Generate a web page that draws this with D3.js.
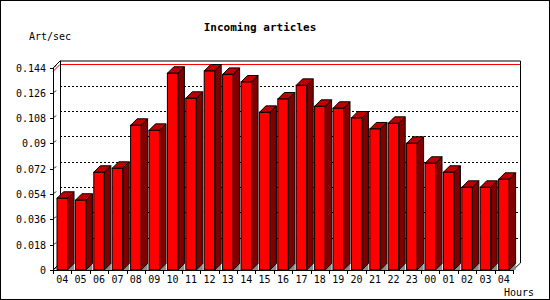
<!DOCTYPE html>
<html>
<head>
<meta charset="utf-8">
<script src="https://cdn.jsdelivr.net/npm/d3@7"></script>
<style>
  body { margin: 0; background: #fff; }
  text { font-family: "DejaVu Sans Mono", monospace; }
</style>
</head>
<body>
<div id="canvas"></div>
<script>
"use strict";

/* Data */
let hours = ["04", "05", "06", "07", "08", "09", "10", "11", "12", "13", "14", "15",
  "16", "17", "18", "19", "20", "21", "22", "23", "00", "01", "02", "03", "04"];
let artPerSec = [0.0510, 0.0496, 0.0695, 0.0723, 0.1029, 0.0993, 0.1399, 0.1221,
  0.1415, 0.1391, 0.1337, 0.1121, 0.1216, 0.1313, 0.1164, 0.1150, 0.1081,
  0.1003, 0.1043, 0.0901, 0.0759, 0.0695, 0.0588, 0.0588, 0.0645];
let yTicks = [0, 0.018, 0.036, 0.054, 0.072, 0.09, 0.108, 0.126, 0.144];
let yTickLabels = ["0", "0.018", "0.036", "0.054", "0.072", "0.09", "0.108", "0.126", "0.144"];

/* Drawing config */
let svgWidth = 550;
let svgHeight = 300;
let plotLeft = 53, plotRight = 513, plotTop = 67.5, plotBottom = 270;
let depth = 7;      // offset of back plane
let barDepth = 6.5; // depth of each bar
let barInset = 4;
let barWidth = 10.5;

let svg = d3.select("#canvas")
  .append("svg")
  .attr("width", svgWidth)
  .attr("height", svgHeight);

/* outer border */
svg.append("rect")
  .attr("x", 0.5).attr("y", 0.5)
  .attr("width", svgWidth - 1).attr("height", svgHeight - 1)
  .attr("fill", "#fff").attr("stroke", "#000");

let xScale = d3.scaleBand()
  .domain(d3.range(hours.length))
  .range([plotLeft, plotRight]);

let yScale = d3.scaleLinear()
  .domain([0, 0.144])
  .range([plotBottom, plotTop]);

/* grid lines on back plane */
svg.selectAll(".grid")
  .data(yTicks.slice(1, -1))
  .enter()
  .append("line")
  .attr("x1", plotLeft + depth).attr("x2", plotRight + depth)
  .attr("y1", function (d) { return Math.round(yScale(d) - depth) + 0.5; })
  .attr("y2", function (d) { return Math.round(yScale(d) - depth) + 0.5; })
  .attr("stroke", "#000")
  .attr("stroke-dasharray", "2,2");

/* max value line */
let maxVal = d3.max(artPerSec);
let yMax = Math.round(yScale(maxVal) - depth) + 0.5;
svg.append("line")
  .attr("x1", plotLeft + depth).attr("x2", plotRight + depth)
  .attr("y1", yMax).attr("y2", yMax)
  .attr("stroke", "#f00");
svg.append("line")
  .attr("x1", plotLeft).attr("y1", yMax + depth)
  .attr("x2", plotLeft + depth).attr("y2", yMax)
  .attr("stroke", "#f00");

/* back frame */
svg.append("path")
  .attr("d", "M" + (plotLeft + depth + 0.5) + "," + (plotBottom - depth) +
    "V" + (plotTop - depth + 0.5) + "H" + (plotRight + depth + 0.5) + "V" + (plotBottom - depth))
  .attr("fill", "none").attr("stroke", "#000");
svg.append("line")
  .attr("x1", plotLeft + 0.5).attr("y1", plotTop)
  .attr("x2", plotLeft + depth + 0.5).attr("y2", plotTop - depth)
  .attr("stroke", "#000");
svg.append("line")
  .attr("x1", plotRight).attr("y1", plotBottom)
  .attr("x2", plotRight + depth + 0.5).attr("y2", plotBottom - depth)
  .attr("stroke", "#000");
svg.append("line")
  .attr("x1", plotLeft).attr("y1", plotBottom)
  .attr("x2", plotLeft + depth).attr("y2", plotBottom - depth)
  .attr("stroke", "#000");

/* bars */
let bars = svg.selectAll(".bar")
  .data(artPerSec)
  .enter()
  .append("g");

// floor shadow
bars.append("path")
  .attr("d", function (d, i) {
    let x1 = xScale(i) + barInset + barWidth;
    return "M" + x1 + "," + plotBottom + "L" + (x1 + barDepth) + "," + (plotBottom - barDepth) +
      "V" + plotBottom + "Z";
  })
  .attr("fill", "#8c8c8c");

// side face
bars.append("path")
  .attr("d", function (d, i) {
    let x1 = xScale(i) + barInset + barWidth;
    let y = yScale(d);
    return "M" + x1 + "," + y + "L" + (x1 + barDepth) + "," + (y - barDepth) +
      "V" + (plotBottom - barDepth) + "L" + x1 + "," + plotBottom + "Z";
  })
  .attr("fill", "#800000")
  .attr("stroke", "#000");

// top face
bars.append("path")
  .attr("d", function (d, i) {
    let x0 = xScale(i) + barInset;
    let y = yScale(d);
    return "M" + x0 + "," + y + "L" + (x0 + barDepth) + "," + (y - barDepth) +
      "H" + (x0 + barWidth + barDepth) + "L" + (x0 + barWidth) + "," + y + "Z";
  })
  .attr("fill", "#c00000")
  .attr("stroke", "#000");

// front face
bars.append("rect")
  .attr("x", function (d, i) { return xScale(i) + barInset; })
  .attr("y", function (d) { return yScale(d); })
  .attr("width", barWidth)
  .attr("height", function (d) { return plotBottom - yScale(d); })
  .attr("fill", "#f00")
  .attr("stroke", "#000");

/* y axis */
svg.append("line")
  .attr("x1", plotLeft + 0.5).attr("x2", plotLeft + 0.5)
  .attr("y1", plotTop).attr("y2", plotBottom)
  .attr("stroke", "#000");
for (let i = 0; i < yTicks.length; i = i + 1) {
  let y = Math.round(yScale(yTicks[i])) + 0.5;
  svg.append("line")
    .attr("x1", plotLeft - 3).attr("x2", plotLeft)
    .attr("y1", y).attr("y2", y)
    .attr("stroke", "#000");
  svg.append("line")
    .attr("x1", plotLeft + 1).attr("y1", y - 1)
    .attr("x2", plotLeft + 3).attr("y2", y - 3)
    .attr("stroke", "#000");
  svg.append("text")
    .attr("x", plotLeft - 7)
    .attr("y", y + 3.5)
    .attr("text-anchor", "end")
    .attr("font-size", "10px")
    .text(yTickLabels[i]);
}

/* x axis */
svg.append("line")
  .attr("x1", plotLeft).attr("x2", plotRight)
  .attr("y1", plotBottom + 0.5).attr("y2", plotBottom + 0.5)
  .attr("stroke", "#000");
for (let i = 0; i <= hours.length; i = i + 1) {
  let x = Math.round(plotLeft + i * xScale.bandwidth()) + 0.5;
  svg.append("line")
    .attr("x1", x).attr("x2", x)
    .attr("y1", plotBottom).attr("y2", plotBottom + 4)
    .attr("stroke", "#000");
}
svg.selectAll(".xlabel")
  .data(hours)
  .enter()
  .append("text")
  .attr("x", function (d, i) { return xScale(i) + xScale.bandwidth() / 2; })
  .attr("y", plotBottom + 13)
  .attr("text-anchor", "middle")
  .attr("font-size", "10px")
  .text(function (d) { return d; });

/* titles */
svg.append("text")
  .attr("x", 260)
  .attr("y", 31)
  .attr("text-anchor", "middle")
  .attr("font-size", "11px")
  .attr("font-weight", "bold")
  .text("Incoming articles");

svg.append("text")
  .attr("x", 29)
  .attr("y", 40)
  .attr("font-size", "10px")
  .text("Art/sec");

svg.append("text")
  .attr("x", 534)
  .attr("y", 296)
  .attr("text-anchor", "end")
  .attr("font-size", "10px")
  .text("Hours");
</script>
</body>
</html>
